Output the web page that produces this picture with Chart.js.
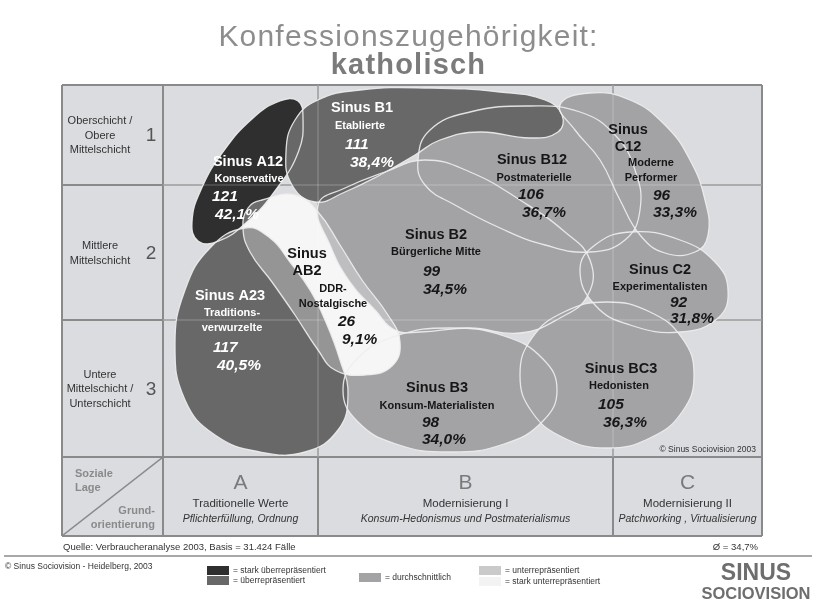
<!DOCTYPE html>
<html lang="de">
<head>
<meta charset="utf-8">
<title>Konfessionszugehörigkeit: katholisch</title>
<script src="https://cdn.jsdelivr.net/npm/chart.js@4.4.1/dist/chart.umd.min.js"></script>
<style>
  body { margin: 0; background: #fff; font-family: "Liberation Sans", Arial, sans-serif; }
  #page { position: relative; width: 817px; height: 602px; overflow: hidden; }
  #page canvas { position: absolute; left: 0; top: 0; z-index: 1; }
  .t { position: absolute; white-space: nowrap; z-index: 2; color: #333; }
  .ln { position: absolute; background: #8a8a8a; z-index: 0; }
  .sw { position: absolute; z-index: 2; }
</style>
</head>
<body>
<div id="page">
  <div class="t" style="left:0;width:817px;top:18px;text-align:center;font-size:30px;line-height:35px;letter-spacing:1.2px;color:#8d8d8d;">Konfessionszugehörigkeit:</div>
  <div class="t" style="left:0;width:817px;top:47px;text-align:center;font-size:29px;line-height:34px;letter-spacing:1.2px;font-weight:bold;color:#7b7b7b;">katholisch</div>
  <canvas id="map" width="817" height="602"></canvas>
</div>
<script>
// Zeilen (soziale Lage) und Spalten (Grundorientierung)
const rowNumbers = ['1', '2', '3'];
const rowLabels = ['Oberschicht /\nObere\nMittelschicht', 'Mittlere\nMittelschicht', 'Untere\nMittelschicht /\nUnterschicht'];
const colLetters = ['A', 'B', 'C'];
const colTitles = ['Traditionelle Werte', 'Modernisierung I', 'Modernisierung II'];
const colSubtitles = ['Pflichterfüllung, Ordnung', 'Konsum-Hedonismus und Postmaterialismus', 'Patchworking , Virtualisierung'];

// Milieus: Index und Anteil Katholiken
const milieuCodes = ['Sinus A12', 'Sinus B1', 'Sinus B12', 'Sinus\nC12', 'Sinus\nAB2', 'Sinus B2', 'Sinus C2', 'Sinus A23', 'Sinus B3', 'Sinus BC3'];
const milieuNames = ['Konservative', 'Etablierte', 'Postmaterielle', 'Moderne\nPerformer', 'DDR-\nNostalgische', 'Bürgerliche Mitte', 'Experimentalisten', 'Traditions-\nverwurzelte', 'Konsum-Materialisten', 'Hedonisten'];
const indexValues = [121, 111, 106, 96, 26, 99, 92, 117, 98, 105];
const shareValues = [42.1, 38.4, 36.7, 33.3, 9.1, 34.5, 31.8, 40.5, 34.0, 36.3];
const shareAverage = 34.7;

// Raster der Karte (Achseneinheiten)
const colBounds = [0, 15.5, 45, 59.9];
const rowBounds = [0, 10, 23.5, 37.2];

// Lage der Milieus in der Karte (Umriss in Achseneinheiten)
const outlines = [
  [[13.5,1.6],[14.0,3.3],[13.57,6.59],[11.33,10.41],[8.39,13.71],[5.54,15.62],[3.53,15.62],[2.9,13.71],[3.83,10.41],[6.07,6.59],[9.01,3.29],[11.7,1.6]],
  [[12.3,6.7],[13.2,3.5],[15.5,1.5],[19.7,0.5],[26.7,0.3],[33.7,0.7],[38.2,1.5],[39.9,3.0],[39.5,4.7],[36.7,5.3],[31.7,4.7],[27.7,5.5],[25.2,7.0],[21.7,9.0],[18.2,10.7],[15.2,11.7],[12.9,10.0]],
  [[25.5,7.5],[26.7,4.5],[30.7,2.7],[36.7,2.1],[41.7,2.7],[45.2,5.0],[47.2,8.5],[47.7,12.5],[46.2,15.5],[42.7,16.7],[38.2,16.0],[33.7,14.3],[29.2,12.0],[26.2,10.0]],
  [[39.7,2.0],[42.7,0.8],[46.7,1.5],[50.2,4.0],[52.7,7.5],[54.2,11.5],[54.5,15.0],[53.2,16.7],[50.2,16.8],[47.7,15.0],[45.7,11.5],[43.7,7.5],[41.2,4.5]],
  [[9.9,11.5],[13.2,11.0],[15.5,12.7],[17.7,16.0],[19.9,19.5],[22.5,23.0],[23.7,25.7],[22.9,28.1],[20.2,29.0],[17.2,28.5],[15.5,26.5],[13.2,23.0],[10.9,19.7],[8.7,16.7],[8.0,14.3],[8.5,12.3]],
  [[15.5,12.0],[18.2,10.3],[22.2,8.7],[26.2,7.5],[30.7,8.7],[35.7,11.5],[40.2,14.7],[42.7,17.5],[42.5,21.0],[39.7,23.3],[35.7,24.8],[30.7,24.3],[25.7,24.7],[23.2,24.5],[21.2,22.5],[18.7,19.7],[16.7,16.0]],
  [[41.7,18.5],[43.2,16.0],[46.7,14.7],[51.7,15.5],[55.2,17.7],[56.5,20.5],[55.5,23.3],[51.7,24.7],[46.7,24.0],[43.2,22.0]],
  [[8.2,14.3],[10.7,15.3],[12.7,17.7],[14.7,20.5],[16.2,23.5],[17.7,27.5],[18.5,31.0],[17.5,34.5],[14.2,36.7],[9.7,36.7],[5.2,35.0],[2.2,31.5],[1.2,26.0],[2.2,20.5],[4.7,16.3]],
  [[39.4,30.5],[38.0,33.6],[34.1,35.9],[28.7,36.7],[23.3,35.9],[19.4,33.6],[18.0,30.5],[19.4,27.4],[23.3,25.1],[28.7,24.3],[34.1,25.1],[38.0,27.4]],
  [[53.1,29.0],[51.9,32.7],[48.7,35.3],[44.4,36.3],[40.1,35.3],[36.9,32.7],[35.7,29.0],[36.9,25.3],[40.1,22.7],[44.4,21.7],[48.7,22.7],[51.9,25.3]]
];

// Beschriftung: Name, Typ, Index, Anteil (Achseneinheiten)
const labelPos = [
  [8.5, 7.7, 8.6, 9.4, 4.9, 11.2, 5.2, 13.0],
  [19.9, 2.3, 19.7, 4.1, 18.2, 6.0, 18.7, 7.8],
  [36.9, 7.5, 37.1, 9.3, 35.5, 11.0, 35.9, 12.8],
  [46.5, 4.5, 48.8, 7.8, 49.0, 11.1, 49.0, 12.8],
  [14.4, 16.9, 17.0, 20.4, 17.5, 23.7, 17.9, 25.5],
  [27.3, 15.0, 27.3, 16.7, 26.0, 18.7, 26.0, 20.5],
  [49.7, 18.5, 49.7, 20.2, 50.7, 21.8, 50.7, 23.4],
  [6.7, 21.1, 6.9, 22.8, 5.0, 26.3, 5.4, 28.1],
  [27.4, 30.3, 27.4, 32.1, 25.9, 33.8, 25.9, 35.5],
  [45.8, 28.4, 45.6, 30.1, 43.5, 32.0, 44.0, 33.8]
];

// von unten nach oben
const drawOrder = [2, 3, 6, 9, 8, 4, 5, 0, 1, 7];

const classColors = ['#2f2f2f', '#686868', '#a3a3a6', '#cacaca', '#f3f3f3'];
const classTexts = ['= stark überrepräsentiert', '= überrepräsentiert', '= durchschnittlich', '= unterrepräsentiert', '= stark unterrepräsentiert'];
const FONT = '"Liberation Sans", Arial, sans-serif';

function classOf(v){
  if (v >= 120) return 0;
  if (v >= 110) return 1;
  if (v >= 90) return 2;
  if (v >= 80) return 3;
  return 4;
}
function fmt(v){ return v.toFixed(1).replace('.', ',') + '%'; }
function pts(i){ return outlines[i].map(p => ({x: p[0], y: p[1]})); }

let datasets = [];
milieuCodes.forEach((c, i) => {
  datasets.push({ data: pts(i), borderColor: 'rgba(238,238,238,0.9)', borderWidth: 1.3, fill: false, tension: 0.45 });
});
datasets.push({ data: pts(4), backgroundColor: 'rgba(255,255,255,0.3)', borderWidth: 0, fill: 'shape', tension: 0.45 });
drawOrder.slice().reverse().forEach(i => {
  datasets.push({ data: pts(i), backgroundColor: classColors[classOf(indexValues[i])], borderWidth: 0, fill: 'shape', tension: 0.45 });
});

function gridLines(chart, color, width){
  const {ctx, scales: {x, y}} = chart;
  ctx.save();
  ctx.strokeStyle = color;
  ctx.lineWidth = width;
  ctx.beginPath();
  colBounds.slice(1, -1).forEach(b => {
    ctx.moveTo(x.getPixelForValue(b), y.getPixelForValue(rowBounds[0]));
    ctx.lineTo(x.getPixelForValue(b), y.getPixelForValue(rowBounds[3]));
  });
  rowBounds.slice(1, -1).forEach(b => {
    ctx.moveTo(x.getPixelForValue(colBounds[0]), y.getPixelForValue(b));
    ctx.lineTo(x.getPixelForValue(colBounds[3]), y.getPixelForValue(b));
  });
  ctx.stroke();
  ctx.restore();
}

function drawLabels(chart){
  const {ctx, scales: {x, y}} = chart;
  ctx.save();
  ctx.textBaseline = 'middle';
  milieuCodes.forEach((code, i) => {
    const p = labelPos[i];
    ctx.fillStyle = classOf(indexValues[i]) < 2 ? '#ffffff' : '#161616';
    ctx.textAlign = 'center';
    ctx.font = 'bold 14.5px ' + FONT;
    code.split('\n').forEach((t, k) => ctx.fillText(t, x.getPixelForValue(p[0]), y.getPixelForValue(p[1]) + k * 17));
    ctx.font = 'bold 11px ' + FONT;
    milieuNames[i].split('\n').forEach((t, k) => ctx.fillText(t, x.getPixelForValue(p[2]), y.getPixelForValue(p[3]) + k * 14.5));
    ctx.textAlign = 'left';
    ctx.font = 'italic bold 15.5px ' + FONT;
    ctx.fillText(String(indexValues[i]), x.getPixelForValue(p[4]), y.getPixelForValue(p[5]));
    ctx.fillText(fmt(shareValues[i]), x.getPixelForValue(p[6]), y.getPixelForValue(p[7]));
  });
  ctx.restore();
}

const sinusMap = {
  id: 'sinusMap',
  afterDatasetUpdate(chart, args){
    const line = args.meta.dataset;
    if (line) {
      line._loop = true;
      line._fullLoop = true;
      delete line._segments;
      line._pointsUpdated = false;
    }
  },
  beforeDatasetsDraw(chart){ gridLines(chart, '#8a8a8a', 1.5); },
  afterDatasetsDraw(chart){
    gridLines(chart, 'rgba(255,255,255,0.28)', 1);
    drawLabels(chart);
  }
};

const chart = new Chart(document.getElementById('map'), {
  type: 'line',
  data: { datasets: datasets },
  options: {
    responsive: false,
    animation: false,
    events: [],
    layout: { padding: { left: 163, top: 85, right: 55, bottom: 145 } },
    scales: {
      x: { type: 'linear', min: colBounds[0], max: colBounds[3], display: false },
      y: { type: 'linear', min: rowBounds[0], max: rowBounds[3], reverse: true, display: false }
    },
    elements: { point: { radius: 0, hitRadius: 0 } },
    plugins: { legend: { display: false }, tooltip: { enabled: false } }
  },
  plugins: [sinusMap]
});

// Rahmen, Achsenbeschriftung und Fußzeile an den Skalen ausrichten
const page = document.getElementById('page');
const sx = v => chart.scales.x.getPixelForValue(v);
const sy = v => chart.scales.y.getPixelForValue(v);
const frameLeft = 62, bandBottom = 536;

function addEl(cls, style, text){
  const d = document.createElement('div');
  d.className = cls;
  d.setAttribute('style', style);
  if (text !== undefined) d.textContent = text;
  page.appendChild(d);
  return d;
}
function hLine(x1, x2, yy){ addEl('ln', `left:${x1}px;top:${yy - 0.75}px;width:${x2 - x1}px;height:1.5px;`); }
function vLine(xx, y1, y2){ addEl('ln', `left:${xx - 0.75}px;top:${y1}px;width:1.5px;height:${y2 - y1}px;`); }

const plotL = sx(colBounds[0]), plotR = sx(colBounds[3]);
const plotT = sy(rowBounds[0]), plotB = sy(rowBounds[3]);
addEl('ln', `left:${frameLeft}px;top:${plotT}px;width:${plotR - frameLeft}px;height:${bandBottom - plotT}px;background:#dadcdf;`);
hLine(frameLeft, plotR, plotT);
hLine(frameLeft, plotR, plotB);
hLine(frameLeft, plotR, bandBottom);
vLine(frameLeft, plotT, bandBottom);
vLine(plotR, plotT, bandBottom);
vLine(plotL, plotT, bandBottom);
rowBounds.slice(1, -1).forEach(b => hLine(frameLeft, plotL, sy(b)));
colBounds.slice(1, -1).forEach(b => vLine(sx(b), plotB, bandBottom));

rowLabels.forEach((lab, i) => {
  const top = sy(rowBounds[i]), h = sy(rowBounds[i + 1]) - top;
  addEl('t', `left:${frameLeft}px;top:${top}px;width:76px;height:${h}px;display:flex;align-items:center;justify-content:center;text-align:center;white-space:pre-line;font-size:11px;line-height:14.5px;color:#333;`, lab);
  addEl('t', `left:${plotL - 22}px;top:${top}px;width:20px;height:${h}px;display:flex;align-items:center;justify-content:center;font-size:19px;color:#555;`, rowNumbers[i]);
});

colLetters.forEach((c, i) => {
  const l = sx(colBounds[i]), w = sx(colBounds[i + 1]) - l;
  addEl('t', `left:${l}px;width:${w}px;top:${plotB + 13}px;text-align:center;font-size:21px;line-height:24px;color:#7a7a7a;`, c);
  addEl('t', `left:${l}px;width:${w}px;top:${plotB + 39}px;text-align:center;font-size:11.5px;line-height:14px;color:#333;`, colTitles[i]);
  addEl('t', `left:${l}px;width:${w}px;top:${plotB + 54}px;text-align:center;font-size:10.5px;line-height:14px;font-style:italic;color:#333;`, colSubtitles[i]);
});

addEl('t', `left:75px;top:${plotB + 9}px;font-size:11px;line-height:14px;font-weight:bold;color:#8a8a8a;`, 'Soziale');
addEl('t', `left:75px;top:${plotB + 23}px;font-size:11px;line-height:14px;font-weight:bold;color:#8a8a8a;`, 'Lage');
addEl('t', `left:${frameLeft}px;width:${plotL - frameLeft - 8}px;top:${plotB + 46}px;text-align:right;font-size:11px;line-height:14px;font-weight:bold;color:#8a8a8a;`, 'Grund-');
addEl('t', `left:${frameLeft}px;width:${plotL - frameLeft - 8}px;top:${plotB + 60}px;text-align:right;font-size:11px;line-height:14px;font-weight:bold;color:#8a8a8a;`, 'orientierung');
const diag = document.createElementNS('http://www.w3.org/2000/svg', 'svg');
diag.setAttribute('width', plotL - frameLeft);
diag.setAttribute('height', bandBottom - plotB);
diag.setAttribute('style', `position:absolute;left:${frameLeft}px;top:${plotB}px;z-index:1;`);
diag.innerHTML = `<line x1="0" y1="${bandBottom - plotB}" x2="${plotL - frameLeft}" y2="0" stroke="#8a8a8a" stroke-width="1.4"/>`;
page.appendChild(diag);

addEl('t', `right:${817 - plotR + 6}px;top:${plotB - 13}px;font-size:8.5px;color:#333;`, '© Sinus Sociovision 2003');

// Fußzeile
addEl('t', `left:63px;top:541px;font-size:9.5px;line-height:12px;color:#333;`, 'Quelle: Verbraucheranalyse 2003, Basis = 31.424 Fälle');
addEl('t', `right:${817 - plotR + 4}px;top:541px;font-size:9.5px;line-height:12px;color:#333;`, 'Ø = ' + fmt(shareAverage));
addEl('ln', 'left:4px;top:555px;width:808px;height:2px;background:#a8a8a8;');
addEl('t', 'left:5px;top:561px;font-size:8.5px;line-height:11px;color:#333;', '© Sinus Sociovision -  Heidelberg, 2003');

const legendBoxes = [[207, 566], [207, 576], [359, 573], [479, 566], [479, 577]];
legendBoxes.forEach((b, k) => {
  addEl('sw', `left:${b[0]}px;top:${b[1]}px;width:22px;height:9px;background:${classColors[k]};`);
  addEl('t', `left:${b[0] + 26}px;top:${b[1] - 1}px;font-size:8.5px;line-height:11px;color:#333;`, classTexts[k]);
});

addEl('t', 'left:700px;width:112px;top:560px;text-align:center;font-size:23px;line-height:24px;font-weight:bold;color:#6e6e6e;', 'SINUS');
addEl('t', 'left:700px;width:112px;top:584px;text-align:center;font-size:16.5px;line-height:18px;font-weight:bold;color:#6e6e6e;', 'SOCIOVISION');
</script>
</body>
</html>
